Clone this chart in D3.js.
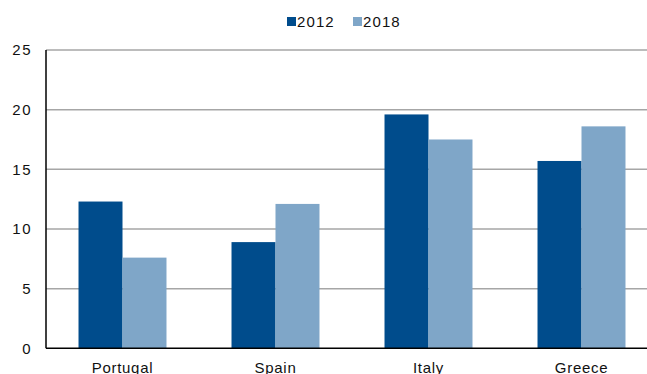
<!DOCTYPE html>
<html><head><meta charset="utf-8">
<script src="https://cdn.jsdelivr.net/npm/d3@7"></script>
<style>html,body{margin:0;padding:0;background:#fff;overflow:hidden}svg{display:block;font-family:"Liberation Sans",Arial,sans-serif}</style>
</head><body>
<svg id="c" width="647" height="374"></svg>
<script>
const categories = ["Portugal", "Spain", "Italy", "Greece"];
const seriesNames = ["2012", "2018"];
const values2012 = [12.3, 8.9, 19.6, 15.7];
const values2018 = [7.6, 12.1, 17.5, 18.6];
const yTicks = [0, 5, 10, 15, 20, 25];
const colors = ["#004C8C", "#7FA6C8"];

(function () {
const svg = d3.select("#c");
const mLeft = 46, mRight = 658, mTop = 50, mBottom = 348.3;
const y = d3.scaleLinear().domain([0, 25]).range([mBottom, mTop]);
const x0 = d3.scaleBand().domain(categories).range([mLeft, mRight]).paddingInner(0.425).paddingOuter(0.2125);
const x1 = d3.scaleBand().domain(seriesNames).range([0, x0.bandwidth()]);

// gridlines
svg.append("g").selectAll("line").data(yTicks.filter(d => d > 0)).join("line")
  .attr("x1", mLeft).attr("x2", 647).attr("y1", d => y(d)).attr("y2", d => y(d))
  .attr("stroke", "#a6a6a6").attr("stroke-width", 1.5);

// bars
const data = categories.map((c, i) => ({c, vals: [values2012[i], values2018[i]]}));
const g = svg.append("g");
data.forEach(d => {
  d.vals.forEach((v, j) => {
    g.append("rect")
      .attr("x", x0(d.c) + x1(seriesNames[j]))
      .attr("width", x1.bandwidth())
      .attr("y", y(v))
      .attr("height", y(0) - y(v))
      .attr("fill", colors[j]);
  });
});

// axes
const yAxis = d3.axisLeft(y).tickValues(yTicks).tickSize(0).tickPadding(14);
const ya = svg.append("g").attr("transform", `translate(${mLeft},0)`).call(yAxis);
ya.select(".domain").remove();
ya.selectAll("text").attr("font-size", 15).attr("letter-spacing", 1.5).attr("fill", "#111").attr("font-family", "Liberation Sans, Arial, sans-serif");

svg.append("line").attr("x1", mLeft).attr("x2", mLeft).attr("y1", mTop).attr("y2", mBottom).attr("stroke", "#000").attr("stroke-width", 1.5);
svg.append("line").attr("x1", mLeft).attr("x2", 647).attr("y1", mBottom).attr("y2", mBottom).attr("stroke", "#000").attr("stroke-width", 1.5);

const xAxis = d3.axisBottom(x0).tickSize(0).tickPadding(14);
const xa = svg.append("g").attr("transform", `translate(0,${mBottom})`).call(xAxis);
xa.select(".domain").remove();
xa.selectAll("text").attr("font-size", 15).attr("letter-spacing", 0.7).attr("fill", "#111").attr("font-family", "Liberation Sans, Arial, sans-serif");

// legend
const legendX = [287, 353];
const lg = svg.append("g");
seriesNames.forEach((s, j) => {
  lg.append("rect").attr("x", legendX[j]).attr("y", 17).attr("width", 9).attr("height", 9).attr("fill", colors[j]);
  lg.append("text").attr("x", legendX[j] + 10).attr("y", 27).attr("font-size", 15).attr("letter-spacing", 1.1).attr("fill", "#111").text(s);
});
})();
</script>
</body></html>
